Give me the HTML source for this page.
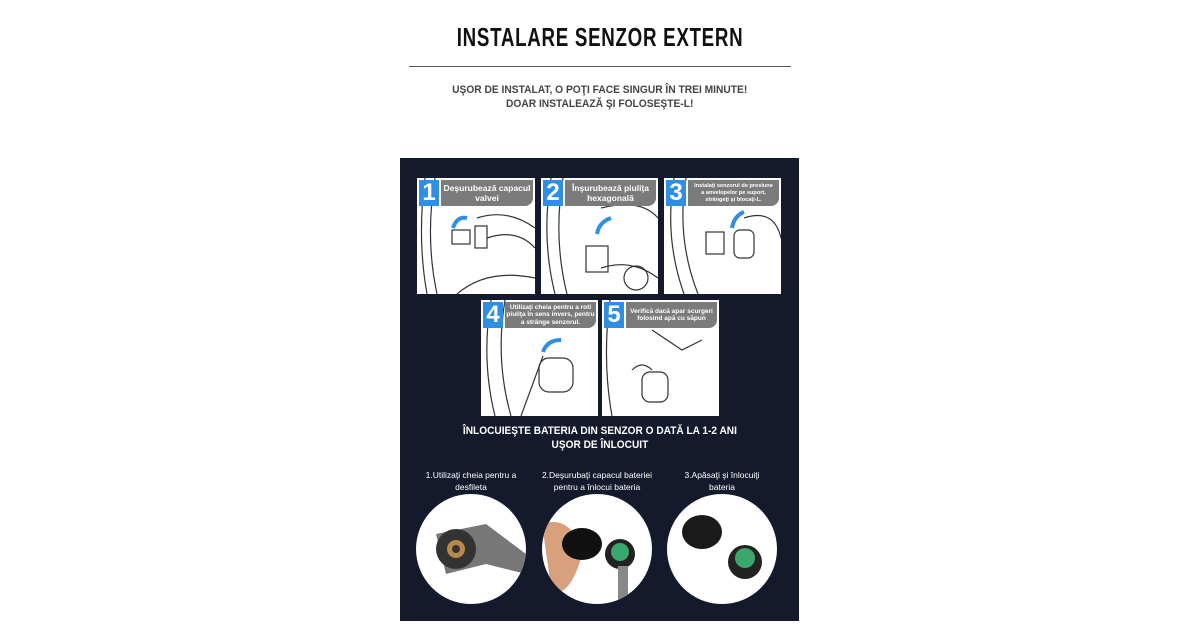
<!DOCTYPE html>
<html><head><meta charset="utf-8"><style>
body{margin:0;width:1200px;height:630px;background:#fff;position:relative;overflow:hidden;font-family:"Liberation Sans",sans-serif}
.a{position:absolute}
.t{left:0;width:1200px;text-align:center}
.panel{background:#fff;position:absolute;overflow:hidden}
.num{position:absolute;left:2px;top:2px;width:20px;height:26px;background:#2f8ee6;color:#fff;font-weight:bold;font-size:24px;line-height:26px;text-align:center}
.lab{position:absolute;left:24px;top:2px;right:2px;height:26px;background:#7b7b7b;color:#fff;font-weight:bold;font-size:8.5px;line-height:10px;text-align:center;display:flex;align-items:center;justify-content:center;border-radius:0 0 8px 0}
.lab.s{font-size:6.5px;line-height:7.5px}
.lab.xs{font-size:5.6px;line-height:7px}
.c{position:absolute;width:110px;height:110px;border-radius:50%;background:#fff;overflow:hidden}
.cap{position:absolute;color:#fff;font-size:8.5px;line-height:12px;text-align:center;width:130px}
</style></head><body>
<div class="a t" style="top:22px"><span style="display:inline-block;font-weight:bold;font-size:26px;letter-spacing:1px;transform:scaleX(0.72);color:#111">INSTALARE SENZOR EXTERN</span></div>
<div class="a" style="left:409px;top:66px;width:382px;height:1px;background:#555"></div>
<div class="a t" style="top:83px;font-weight:bold;font-size:11px;line-height:14px;color:#444"><span style="display:inline-block;transform:scaleX(0.93)">UŞOR DE INSTALAT, O POŢI FACE SINGUR ÎN TREI MINUTE!<br>DOAR INSTALEAZĂ ŞI FOLOSEŞTE-L!</span></div>
<div class="a" style="left:400px;top:158px;width:399px;height:463px;background:#141a2b"></div>

<div class="panel" style="left:417px;top:178px;width:118px;height:116px">
<svg width="118" height="116" class="a"><g fill="none" stroke="#333" stroke-width="1.2"><path d="M8 0 Q0 60 10 116M18 0 Q8 60 20 116M60 40 Q90 30 118 50M70 60 Q100 50 118 70M40 116 Q70 90 118 100"/><rect x="35" y="52" width="18" height="14"/><rect x="58" y="48" width="12" height="22"/></g><path d="M50 40 Q40 38 36 50" stroke="#2f8ee6" stroke-width="4" fill="none"/></svg>
<div class="num">1</div><div class="lab">Deşurubează capacul<br>valvei</div></div>
<div class="panel" style="left:541px;top:178px;width:117px;height:116px">
<svg width="117" height="116" class="a"><g fill="none" stroke="#333" stroke-width="1.2"><path d="M10 0 Q0 60 14 116M22 0 Q12 60 26 116M60 30 Q100 20 117 40M60 90 Q90 80 117 100"/><rect x="45" y="68" width="22" height="26"/><circle cx="95" cy="100" r="12"/></g><path d="M56 56 Q58 44 70 40" stroke="#2f8ee6" stroke-width="4" fill="none"/></svg>
<div class="num">2</div><div class="lab">Înşurubează piuliţa<br>hexagonală</div></div>
<div class="panel" style="left:664px;top:178px;width:117px;height:116px">
<svg width="117" height="116" class="a"><g fill="none" stroke="#333" stroke-width="1.2"><path d="M10 0 Q0 60 20 116M22 0 Q12 60 34 116M80 40 Q110 30 117 60"/><rect x="42" y="54" width="18" height="22"/><rect x="70" y="52" width="20" height="28" rx="6"/></g><path d="M68 50 Q70 38 80 34" stroke="#2f8ee6" stroke-width="4" fill="none"/></svg>
<div class="num">3</div><div class="lab xs">Instalaţi senzorul de presiune<br>a anvelopelor pe suport,<br>strângeţi şi blocaţi-L.</div></div>
<div class="panel" style="left:481px;top:300px;width:117px;height:116px">
<svg width="117" height="116" class="a"><g fill="none" stroke="#333" stroke-width="1.2"><path d="M10 0 Q0 60 14 116M24 0 Q14 60 30 116M40 116 L62 56"/><rect x="58" y="58" width="34" height="34" rx="10"/></g><path d="M80 40 Q66 40 62 52" stroke="#2f8ee6" stroke-width="4" fill="none"/></svg>
<div class="num">4</div><div class="lab s">Utilizaţi cheia pentru a roti<br>piuliţa în sens invers, pentru<br>a strânge senzorul.</div></div>
<div class="panel" style="left:602px;top:300px;width:117px;height:116px">
<svg width="117" height="116" class="a"><g fill="none" stroke="#333" stroke-width="1.2"><path d="M8 0 Q0 60 10 116M50 30 L80 50 L100 40M30 70 Q40 60 50 70"/><rect x="40" y="72" width="26" height="30" rx="8"/></g></svg>
<div class="num">5</div><div class="lab s">Verifică dacă apar scurgeri<br>folosind  apă cu săpun</div></div>

<div class="a t" style="top:424px;color:#fff;font-weight:bold;font-size:11px;line-height:14px"><span style="display:inline-block;transform:scaleX(0.92)">ÎNLOCUIEŞTE BATERIA DIN SENZOR O DATĂ LA 1-2 ANI<br>UŞOR DE ÎNLOCUIT</span></div>
<div class="cap" style="left:406px;top:469px">1.Utilizaţi cheia pentru a<br>desfileta</div>
<div class="cap" style="left:532px;top:469px">2.Deşurubaţi capacul bateriei<br>pentru a înlocui bateria</div>
<div class="cap" style="left:657px;top:469px">3.Apăsaţi şi înlocuiţi<br>bateria</div>

<div class="c" style="left:416px;top:494px"><svg width="110" height="110"><path d="M20 40 L70 30 L110 60 L110 80 L70 70 L30 80Z" fill="#777"/><circle cx="40" cy="55" r="20" fill="#333"/><circle cx="40" cy="55" r="9" fill="#b8894a"/><circle cx="40" cy="55" r="4" fill="#333"/></svg></div>
<div class="c" style="left:542px;top:494px"><svg width="110" height="110"><path d="M0 30 Q30 20 40 60 Q30 100 10 100Z" fill="#d9a07e"/><ellipse cx="40" cy="50" rx="20" ry="16" fill="#111"/><circle cx="78" cy="60" r="15" fill="#222"/><circle cx="78" cy="58" r="9" fill="#3aa76d"/><rect x="76" y="72" width="10" height="38" fill="#888"/></svg></div>
<div class="c" style="left:667px;top:494px"><svg width="110" height="110"><ellipse cx="35" cy="38" rx="20" ry="17" fill="#1a1a1a"/><circle cx="78" cy="68" r="17" fill="#222"/><circle cx="78" cy="64" r="10" fill="#3aa76d"/></svg></div>
</body></html>
